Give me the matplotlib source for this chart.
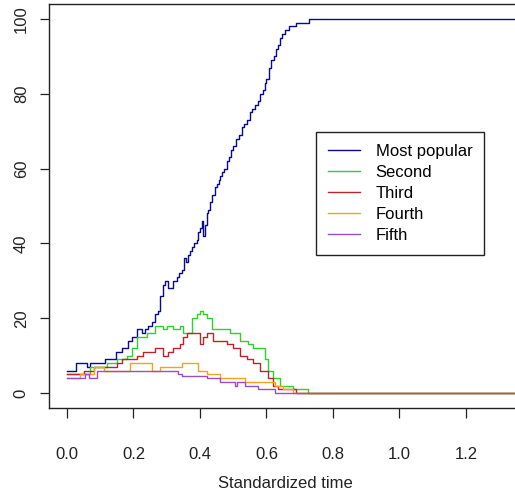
import numpy as np
import matplotlib
matplotlib.use("Agg")
import matplotlib.pyplot as plt

plt.rcParams['font.family'] = ['Liberation Sans', 'DejaVu Sans']

labels = ['Most popular', 'Second', 'Third', 'Fourth', 'Fifth']
colors = ['#0a0a8c', '#2ed12e', '#b8262a', '#f0a418', '#9a4ccc']

# step breakpoints (standardized time) and values
t1 = [0.0, 0.027, 0.06, 0.07, 0.114, 0.147, 0.165, 0.183, 0.195, 0.21, 0.226, 0.235, 0.244, 0.256,
      0.265, 0.274, 0.28, 0.288, 0.295, 0.304, 0.319, 0.331, 0.338, 0.345, 0.352, 0.358, 0.364,
      0.37, 0.376, 0.383, 0.39, 0.395, 0.40, 0.406, 0.41, 0.415, 0.421, 0.425, 0.43, 0.437, 0.445,
      0.45, 0.456, 0.461, 0.466, 0.473, 0.48, 0.487, 0.494, 0.50, 0.508, 0.517, 0.525, 0.532, 0.54,
      0.55, 0.557, 0.565, 0.575, 0.582, 0.589, 0.595, 0.60, 0.607, 0.614, 0.622, 0.63, 0.635, 0.64,
      0.648, 0.657, 0.667, 0.676, 0.69, 0.71, 0.728, 1.35]
v1 = [6, 8, 7, 8, 9, 11, 12, 14, 15, 17, 16, 17, 18, 19,
      21, 22, 26, 29, 30, 28, 30, 31, 32, 33, 36, 35, 37,
      38, 39, 40, 41, 43, 44, 46, 42, 45, 48, 49, 51, 53, 55,
      56, 57, 58, 59, 60, 62, 63, 65, 66, 68, 69, 71, 72, 73,
      75, 76, 77, 78, 80, 81, 83, 84, 87, 89, 90, 92, 93, 95,
      96, 97, 98, 98, 99, 99, 100, 100]

t2 = [0.0, 0.07, 0.12, 0.15, 0.18, 0.195, 0.21, 0.24, 0.265, 0.29, 0.30, 0.32, 0.34, 0.35, 0.375,
      0.39, 0.40, 0.41, 0.42, 0.435, 0.45, 0.49, 0.52, 0.545, 0.56, 0.595, 0.605, 0.62, 0.64, 0.68,
      0.725, 1.35]
v2 = [5, 7, 8, 9, 10, 12, 15, 16, 18, 17, 18, 17, 18, 16, 20,
      21, 22, 21, 20, 17, 17, 16, 14, 13, 12, 9, 6, 4, 2, 1,
      0, 0]

t3 = [0.0, 0.05, 0.08, 0.15, 0.165, 0.21, 0.23, 0.265, 0.29, 0.305, 0.32, 0.34, 0.35, 0.36, 0.38,
      0.40, 0.41, 0.42, 0.44, 0.48, 0.50, 0.52, 0.54, 0.56, 0.58, 0.605, 0.62, 0.635, 0.69, 1.35]
v3 = [5, 6, 7, 8, 9, 10, 11, 12, 10, 11, 12, 13, 15, 16, 16,
      13, 15, 16, 14, 13, 12, 10, 9, 8, 6, 4, 2, 1, 0, 0]

t4 = [0.0, 0.04, 0.08, 0.11, 0.19, 0.24, 0.255, 0.28, 0.345, 0.395, 0.42, 0.46, 0.535, 0.625,
      0.65, 0.68, 1.35]
v4 = [4, 5, 7, 6, 8, 8, 6, 7, 8, 6, 5, 4, 3, 2, 1, 0, 0]

t5 = [0.0, 0.055, 0.065, 0.09, 0.26, 0.335, 0.345, 0.42, 0.46, 0.50, 0.505, 0.51, 0.535, 0.575,
      0.625, 1.35]
v5 = [4, 5, 4, 6, 6, 5, 4.5, 4, 3, 3, 2, 3, 2, 1, 0, 0]

series = [(t1, v1), (t2, v2), (t3, v3), (t4, v4), (t5, v5)]

fig = plt.figure(figsize=(5.15, 4.95), dpi=100)
W, H = 515, 495
ax = fig.add_axes([49 / W, (H - 408) / H, (522 - 49) / W, (408 - 4) / H])

for (t, v), c, lab in zip(series, colors, labels):
    ax.step(t, v, where='post', color=c, lw=1.0, label=lab)

ax.set_xlim(-0.054, -0.054 + 473 / 332.5)
ax.set_ylim(-4, 104)
ax.set_xticks(np.arange(0, 1.21, 0.2))
ax.set_xticklabels(['0.0', '0.2', '0.4', '0.6', '0.8', '1.0', '1.2'])
ax.set_yticks(np.arange(0, 101, 20))
ax.tick_params(axis='x', length=7, width=0.9, pad=21, labelsize=12, colors='#222222')
ax.tick_params(axis='y', length=6.5, width=0.9, pad=8, labelsize=12, colors='#222222')
for lab in ax.get_yticklabels():
    lab.set_rotation(90)
    lab.set_va('center')
for s in ax.spines.values():
    s.set_linewidth(1.0)
    s.set_color('#222222')

ax.set_xlabel('Standardized time', fontsize=12, labelpad=10.5, color='#222222')

leg = ax.legend(loc='upper left', bbox_to_anchor=(316 / W, 1 - 132 / H),
                bbox_transform=fig.transFigure, borderaxespad=0, fancybox=False,
                edgecolor='#222222', framealpha=1, fontsize=12, handlelength=1.9,
                handletextpad=0.95, labelspacing=0.36, borderpad=0.72)
leg.get_frame().set_linewidth(1.0)

fig.savefig('out.png', dpi=100)
